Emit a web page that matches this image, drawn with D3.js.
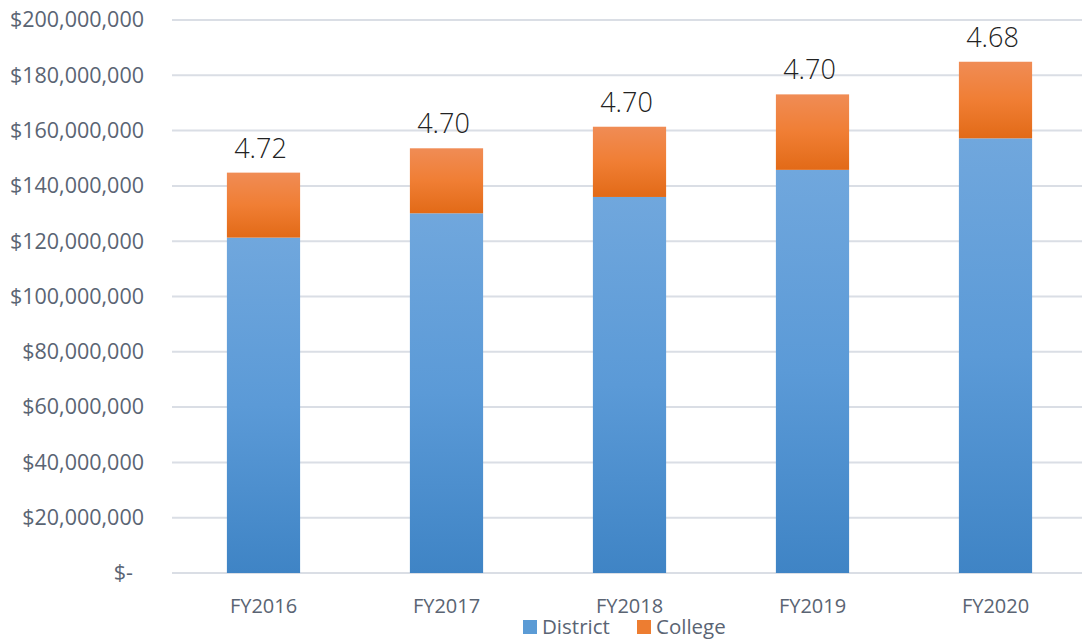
<!DOCTYPE html>
<html><head><meta charset="utf-8">
<script src="https://cdn.jsdelivr.net/npm/d3@7"></script>
<style>body{margin:0;background:#fff}svg{display:block}</style>
</head><body>
<svg id="c" width="1082" height="639"></svg>
<script>
const categories = ["FY2016","FY2017","FY2018","FY2019","FY2020"];
const district = [121300000,130100000,136000000,145800000,157200000];
const college  = [23500000, 23500000, 25400000, 27300000, 27700000];
const ratios   = ["4.72","4.70","4.70","4.70","4.68"];
const yTicks   = [0,20e6,40e6,60e6,80e6,100e6,120e6,140e6,160e6,180e6,200e6];
const seriesNames = ["District","College"];

const svg = d3.select("#c");
const x = d3.scaleBand().domain(categories).range([172,1087]).paddingInner(0.6).paddingOuter(0.3);
const y = d3.scaleLinear().domain([0,200e6]).range([573,20]);

const defs = svg.append("defs");
function grad(id, top, mid, bot){
  const g = defs.append("linearGradient").attr("id",id).attr("x1",0).attr("y1",0).attr("x2",0).attr("y2",1);
  g.append("stop").attr("offset","0%").attr("stop-color",top);
  g.append("stop").attr("offset","50%").attr("stop-color",mid);
  g.append("stop").attr("offset","100%").attr("stop-color",bot);
}
grad("gBlue","#70a7dd","#5b9ad7","#3f84c5");
grad("gOrange","#f08c55","#f07e34","#e26a17");
const colors = ["url(#gBlue)","url(#gOrange)"];
const legendColors = ["#5b9bd5","#ed7d31"];

const yAxis = d3.axisLeft(y).tickValues(yTicks).tickSize(0).tickPadding(0)
  .tickFormat(d => d===0 ? "$-" : "$" + d3.format(",")(d));
const ga = svg.append("g").attr("transform","translate(144,0)").call(yAxis);
ga.select(".domain").remove();
ga.selectAll("text").attr("font-family","'Open Sans', sans-serif").attr("font-size",21.5).attr("fill","#5a6473")
  .attr("dx", d => d===0 ? -11 : 0);

svg.append("g").selectAll("line").data(yTicks).join("line")
  .attr("x1",172).attr("x2",1082).attr("y1",d=>y(d)).attr("y2",d=>y(d))
  .attr("stroke","#dadee5").attr("stroke-width",2);

const rows = categories.map((c,i)=>({cat:c, District:district[i], College:college[i]}));
const stack = d3.stack().keys(seriesNames)(rows);
svg.append("g").selectAll("g").data(stack).join("g").attr("fill",(d,i)=>colors[i])
  .selectAll("rect").data(d=>d).join("rect")
  .attr("x",d=>x(d.data.cat)).attr("width",x.bandwidth())
  .attr("y",d=>y(d[1])).attr("height",d=>y(d[0])-y(d[1]));

svg.append("g").selectAll("text").data(categories).join("text")
  .attr("x",c=>x(c)+x.bandwidth()/2-3).attr("y",(c,i)=>y(district[i]+college[i])-15)
  .attr("text-anchor","middle").attr("font-family","'Open Sans', sans-serif").attr("font-weight",300)
  .attr("font-size",27).attr("fill","#222").text((c,i)=>ratios[i]);

const xAxis = d3.axisBottom(x).tickSize(0).tickPadding(0);
const gx = svg.append("g").attr("transform","translate(0,613)").call(xAxis);
gx.select(".domain").remove();
gx.selectAll("text").attr("font-family","'Open Sans', sans-serif").attr("font-size",20).attr("fill","#5a6473").attr("dy",0);

const lg = svg.append("g").attr("font-family","'Open Sans', sans-serif").attr("font-size",20.5).attr("fill","#5a6473");
const lx = [523,637];
seriesNames.forEach((s,i)=>{
  lg.append("rect").attr("x",lx[i]).attr("y",620).attr("width",14).attr("height",14).attr("fill",legendColors[i]);
  lg.append("text").attr("x",lx[i]+19).attr("y",634).text(s);
});
</script>
</body></html>
